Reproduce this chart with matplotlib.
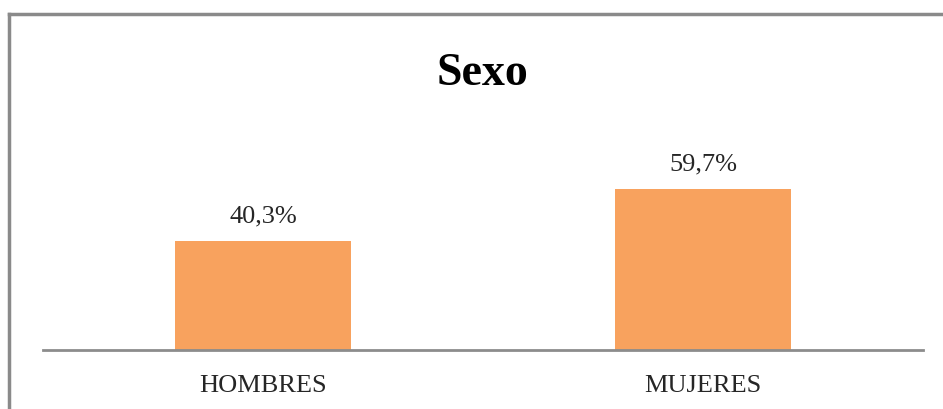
import matplotlib
matplotlib.use("Agg")
import matplotlib.pyplot as plt
from matplotlib.lines import Line2D

categories = ["HOMBRES", "MUJERES"]
values = [40.3, 59.7]
value_labels = ["40,3%", "59,7%"]
title = "Sexo"

W, H, DPI = 943, 409, 100
fig = plt.figure(figsize=(W / DPI, H / DPI), dpi=DPI)
fig.patch.set_facecolor("white")
plt.rcParams["font.family"] = ["Liberation Serif", "DejaVu Serif"]

# frame around the chart area (top and left edges visible)
fx0, fy0 = 9 / W, 1 - 13.5 / H
fig.add_artist(Line2D([fx0, 1.0], [fy0, fy0], transform=fig.transFigure,
                      color="#8a8a8a", lw=2.5))
fig.add_artist(Line2D([fx0, fx0], [fy0, 0.0], transform=fig.transFigure,
                      color="#8a8a8a", lw=2.5))

# axes: baseline at y=350 px, x from 43 to 923 px
ax_left, ax_right = 43 / W, 923 / W
ax_bottom = 1 - 350 / H
ymax = 70
ax_height_px = ymax * (161 / 59.7)
ax = fig.add_axes([ax_left, ax_bottom, ax_right - ax_left, ax_height_px / H])

x = list(range(len(categories)))
bars = ax.bar(x, values, width=0.4, color="#F8A25E", zorder=2)
ax.set_xlim(-0.5, len(categories) - 0.5)
ax.set_ylim(0, ymax)

for b, lab in zip(bars, value_labels):
    ax.annotate(lab, (b.get_x() + b.get_width() / 2, b.get_height()),
                xytext=(0, 10), textcoords="offset points",
                ha="center", va="bottom", fontsize=19, color="#262626")

ax.set_xticks(x)
ax.set_xticklabels(categories, fontsize=19, color="#262626")
ax.tick_params(axis="x", length=0, pad=18)
ax.set_yticks([])
for s in ["top", "right", "left"]:
    ax.spines[s].set_visible(False)
ax.spines["bottom"].set_color("#8c8c8c")
ax.spines["bottom"].set_linewidth(2)

fig.text(482 / W, 1 - 74 / H, title, ha="center", va="center",
         fontsize=33, fontweight="bold", color="black")

fig.savefig("out.png", dpi=DPI)
